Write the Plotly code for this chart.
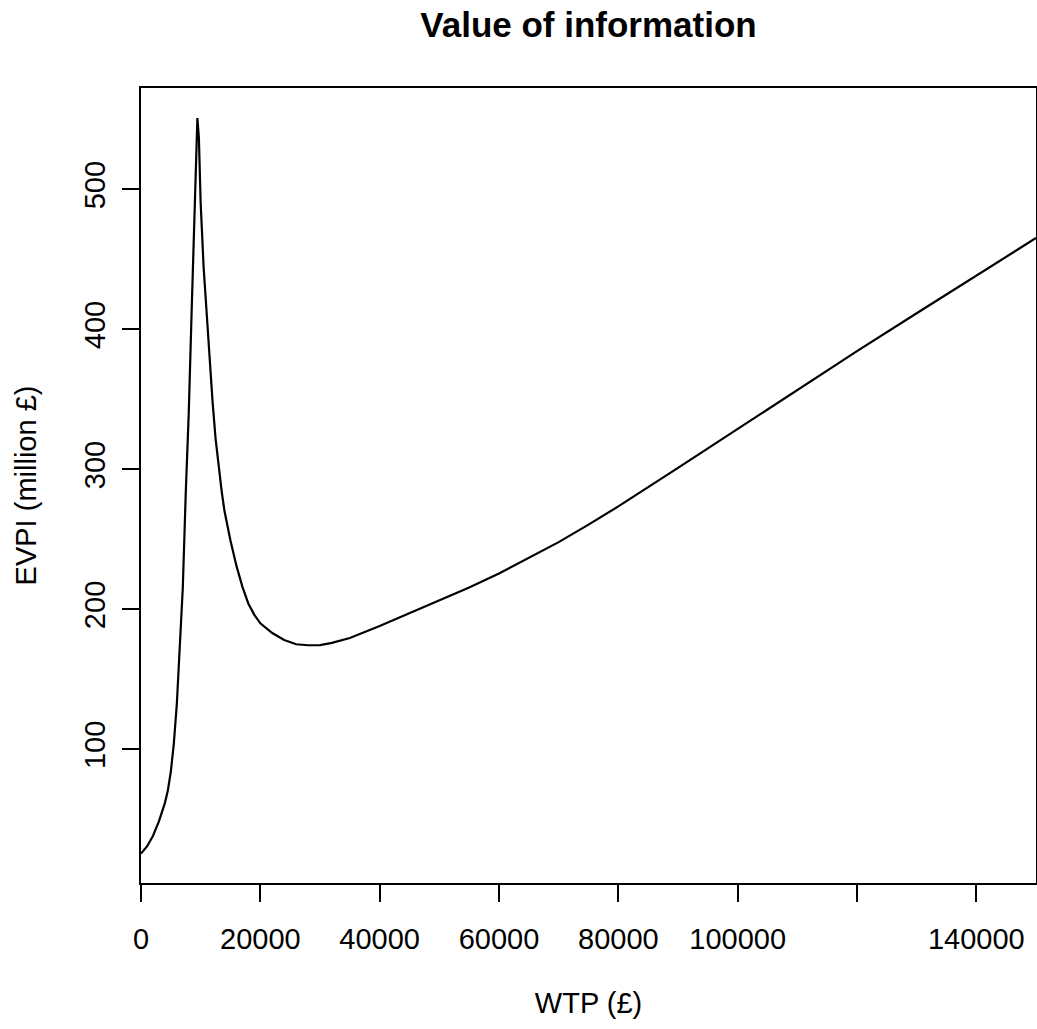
import plotly.graph_objects as go

# Data
wtp = [0, 1000, 2000, 3000, 4000, 4500, 5000, 5500, 6000, 6500, 7000, 7500,
       8000, 8500, 9000, 9450, 9700, 10000, 10500, 11000, 11500, 12000, 12500,
       13000, 13500, 14000, 15000, 16000, 17000, 18000, 19000, 20000, 22000,
       24000, 26000, 28000, 30000, 32000, 35000, 40000, 45000, 50000, 55000,
       60000, 65000, 70000, 75000, 80000, 90000, 100000, 110000, 120000,
       130000, 140000, 150000]
evpi = [25.4, 30.5, 38, 48.5, 61.5, 70.5, 84, 104, 132, 170, 215, 283,
        340, 415, 495, 551, 537, 490, 444, 411, 380, 348, 322,
        302, 285, 270, 249, 231, 216, 204, 196, 190, 183,
        178, 175, 174.3, 174.4, 176, 179.5, 188, 197, 206, 215.5,
        225.5, 236.5, 248, 260.5, 273.5, 301, 329, 357, 384.5,
        411.5, 438.5, 465.3]

x_tickvals = [0, 20000, 40000, 60000, 80000, 100000, 120000, 140000]
x_ticktext = ["0", "20000", "40000", "60000", "80000", "100000", "", "140000"]
y_tickvals = [100, 200, 300, 400, 500]
y_ticktext = ["100", "200", "300", "400", "500"]

FONT = "Liberation Sans, Arial, Helvetica, sans-serif"

fig = go.Figure()
fig.add_trace(go.Scatter(x=wtp, y=evpi, mode="lines",
                         line=dict(color="black", width=2.2),
                         hoverinfo="skip", showlegend=False))

fig.update_layout(
    width=1037, height=1029,
    margin=dict(l=141, r=1, t=88, b=146, autoexpand=False),
    paper_bgcolor="white", plot_bgcolor="white",
    font=dict(family=FONT, size=29, color="black"),
    title=dict(text="<b>Value of information</b>", x=0.5, xref="paper",
               y=1 - 25 / 1029, yref="container", yanchor="middle",
               xanchor="center", font=dict(size=35, family=FONT, color="black")),
    showlegend=False,
)
fig.update_xaxes(
    range=[0, 150000], tickvals=x_tickvals, ticktext=x_ticktext,
    showgrid=False, zeroline=False, showline=True, linecolor="black",
    linewidth=2, mirror=True, ticks="outside", ticklen=17, tickwidth=2,
    tickcolor="black", tickfont=dict(size=29, family=FONT),
    ticklabelstandoff=12, automargin=False,
    title=dict(text="WTP (£)", font=dict(size=29, family=FONT), standoff=39),
)
fig.update_yaxes(
    range=[4.4, 572.5], tickvals=y_tickvals, ticktext=y_ticktext,
    showgrid=False, zeroline=False, showline=True, linecolor="black",
    linewidth=2, mirror=True, ticks="outside", ticklen=17, tickwidth=2,
    tickcolor="black", tickfont=dict(size=29, family=FONT), tickangle=-90,
    ticklabelstandoff=5, automargin=False,
    title=dict(text="EVPI (million £)", font=dict(size=29, family=FONT), standoff=34),
)

fig.write_html(
    "out.html",
    config={"displayModeBar": False, "staticPlot": True},
    post_script="document.body.style.margin='0';document.body.style.overflow='hidden';",
)
